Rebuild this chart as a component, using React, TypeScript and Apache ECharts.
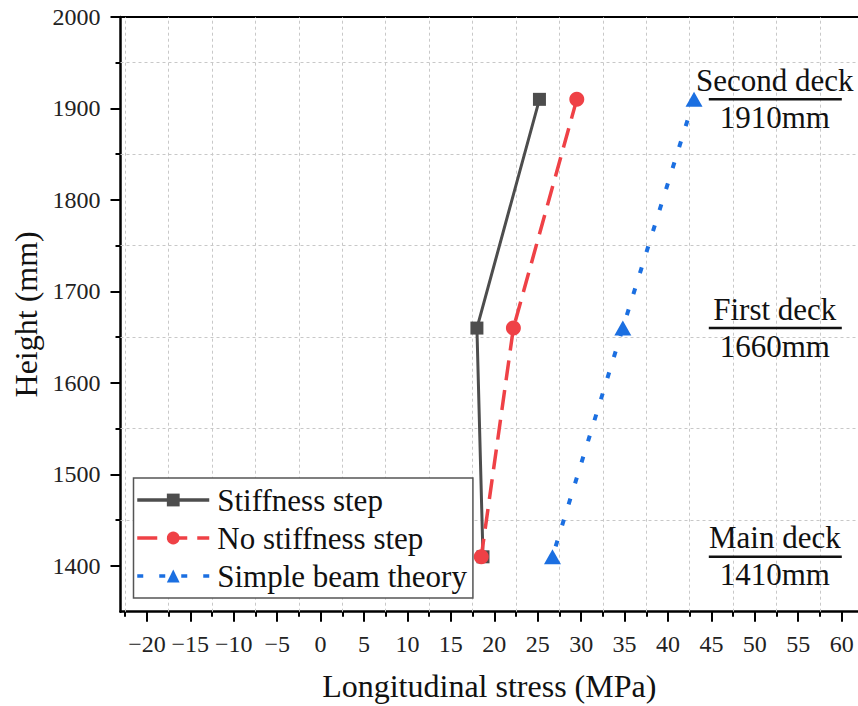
import React, { useEffect, useRef } from "react";
import * as echarts from "echarts";

const FONT = "'Liberation Serif', 'Times New Roman', serif";

// Data
const heights = [1910, 1660, 1410];
const stiffnessStep = [25.2, 18.0, 18.7];
const noStiffnessStep = [29.5, 22.2, 18.5];
const simpleBeam = [43.0, 34.8, 26.7];
const seriesNames = ["Stiffness step", "No stiffness step", "Simple beam theory"];

const xMajorTicks = [-20, -15, -10, -5, 0, 5, 10, 15, 20, 25, 30, 35, 40, 45, 50, 55, 60];
const xMinorTicks = [-22.5, -17.5, -12.5, -7.5, -2.5, 2.5, 7.5, 12.5, 17.5, 22.5, 27.5, 32.5, 37.5, 42.5, 47.5, 52.5, 57.5];
const yMajorTicks = [1400, 1500, 1600, 1700, 1800, 1900, 2000];
const yMinorTicks = [1450, 1550, 1650, 1750, 1850, 1950];

const deckNames = ["Second deck", "First deck", "Main deck"];
const deckHeights = [1910, 1660, 1410];
const deckLabels = ["1910mm", "1660mm", "1410mm"];
const deckLabelX = 52.3;

const X_MIN = -23.04;
const X_MAX = 61.88;
const Y_MIN = 1350;
const Y_MAX = 2000;

const GRID_LEFT = 120.5;
const GRID_TOP = 17;
const GRID_W = 858 - GRID_LEFT;
const GRID_H = 611.7 - GRID_TOP;

export default function App() {
  const ref = useRef<HTMLDivElement>(null);
  useEffect(() => {
    if (!ref.current) return;
    const chart = echarts.init(ref.current, undefined, { renderer: "svg" });
    const black = "#000";
    const gridStyle = { color: "#c8c8c8", width: 1, type: [3, 3] as any };
    const baseX = { type: "value", min: X_MIN, max: X_MAX, gridIndex: 0 };
    const baseY = { type: "value", min: Y_MIN, max: Y_MAX, gridIndex: 0 };
    const fmt = (v: number) => (v < 0 ? "\u2212" + Math.abs(v) : String(v));
    chart.setOption({
      animation: false,
      backgroundColor: "#fff",
      textStyle: { fontFamily: FONT },
      grid: {
        left: GRID_LEFT,
        top: GRID_TOP,
        width: GRID_W,
        height: GRID_H,
        containLabel: false,
        outerBoundsMode: "none",
      },
      xAxis: [
        {
          ...baseX,
          position: "bottom",
          name: "Longitudinal stress (MPa)",
          nameLocation: "middle",
          nameGap: 58,
          nameTextStyle: { fontFamily: FONT, fontSize: 32, color: "#111" },
          axisLine: { show: true, onZero: false, lineStyle: { color: black, width: 2.5 } },
          axisTick: { show: true, customValues: xMajorTicks, length: 10, lineStyle: { color: black, width: 2 } },
          axisLabel: {
            show: true,
            customValues: xMajorTicks,
            formatter: fmt,
            margin: 20,
            fontFamily: FONT,
            fontSize: 24,
            color: "#222",
          },
          splitLine: { show: false },
        },
        {
          ...baseX,
          position: "bottom",
          axisLine: { show: false, onZero: false },
          axisTick: { show: true, customValues: xMinorTicks, length: 5, lineStyle: { color: black, width: 2 } },
          axisLabel: { show: false },
          splitLine: { show: false },
        },
        {
          ...baseX,
          position: "bottom",
          axisLine: { show: false, onZero: false },
          axisTick: { show: true, inside: true, customValues: xMinorTicks, length: GRID_H, lineStyle: gridStyle },
          axisLabel: { show: false },
          splitLine: { show: false },
        },
        {
          ...baseX,
          position: "top",
          axisLine: { show: true, onZero: false, lineStyle: { color: black, width: 2 } },
          axisTick: { show: false },
          axisLabel: { show: false },
          splitLine: { show: false },
        },
      ],
      yAxis: [
        {
          ...baseY,
          position: "left",
          name: "Height (mm)",
          nameLocation: "middle",
          nameGap: 77,
          nameTextStyle: { fontFamily: FONT, fontSize: 32, color: "#111" },
          axisLine: { show: true, onZero: false, lineStyle: { color: black, width: 2.5 } },
          axisTick: { show: true, customValues: yMajorTicks, length: 10, lineStyle: { color: black, width: 2 } },
          axisLabel: {
            show: true,
            customValues: yMajorTicks,
            formatter: (v: number) => String(v),
            margin: 20,
            fontFamily: FONT,
            fontSize: 24,
            color: "#222",
          },
          splitLine: { show: false },
        },
        {
          ...baseY,
          position: "left",
          axisLine: { show: false, onZero: false },
          axisTick: { show: true, customValues: yMinorTicks, length: 5, lineStyle: { color: black, width: 2 } },
          axisLabel: { show: false },
          splitLine: { show: false },
        },
        {
          ...baseY,
          position: "left",
          axisLine: { show: false, onZero: false },
          axisTick: { show: true, inside: true, customValues: yMinorTicks, length: GRID_W, lineStyle: gridStyle },
          axisLabel: { show: false },
          splitLine: { show: false },
        },
      ],
      legend: {
        orient: "vertical",
        left: 133.5,
        top: 478,
        padding: [5, 6, 5, 2],
        itemGap: 4,
        itemWidth: 72,
        itemHeight: 16,
        backgroundColor: "#fff",
        borderColor: "#555",
        borderWidth: 1.5,
        borderRadius: 0,
        lineStyle: { width: 3.5 },
        textStyle: { fontFamily: FONT, fontSize: 31, color: "#111", lineHeight: 34, padding: [0, 0, 0, 3] },
        data: seriesNames,
      },
      series: [
        {
          name: seriesNames[0],
          type: "line",
          xAxisIndex: 0,
          yAxisIndex: 0,
          data: heights.map((h, i) => [stiffnessStep[i], h]),
          symbol: "rect",
          symbolSize: 13,
          color: "#4d4d4d",
          lineStyle: { color: "#4d4d4d", width: 3, type: "solid" },
          itemStyle: { color: "#4d4d4d" },
        },
        {
          name: seriesNames[1],
          type: "line",
          xAxisIndex: 0,
          yAxisIndex: 0,
          data: heights.map((h, i) => [noStiffnessStep[i], h]),
          symbol: "circle",
          symbolSize: 15,
          color: "#ef4146",
          lineStyle: { color: "#ef4146", width: 3.5, type: [20, 10] },
          itemStyle: { color: "#ef4146" },
        },
        {
          name: seriesNames[2],
          type: "line",
          xAxisIndex: 0,
          yAxisIndex: 0,
          data: heights.map((h, i) => [simpleBeam[i], h]),
          symbol: "triangle",
          symbolSize: [17, 15],
          color: "#1b6fe1",
          lineStyle: { color: "#1b6fe1", width: 4, type: [6, 16] },
          itemStyle: { color: "#1b6fe1" },
        },
      ],
    });

    const graphics: any[] = [];
    deckHeights.forEach((h, i) => {
      const p = chart.convertToPixel({ xAxisIndex: 0, yAxisIndex: 0 }, [deckLabelX, h]) as number[];
      if (!p) return;
      const [cx, cy] = p;
      graphics.push({
        type: "text",
        x: cx,
        y: cy - 19,
        style: { text: deckNames[i], fontFamily: FONT, fontSize: 31, fill: "#111", align: "center", verticalAlign: "middle" },
        z: 10,
      });
      graphics.push({
        type: "line",
        shape: { x1: cx - 66, y1: cy, x2: cx + 67, y2: cy },
        style: { stroke: "#111", lineWidth: 2.5 },
        z: 10,
      });
      graphics.push({
        type: "text",
        x: cx,
        y: cy + 18,
        style: { text: deckLabels[i], fontFamily: FONT, fontSize: 31, fill: "#111", align: "center", verticalAlign: "middle" },
        z: 10,
      });
    });
    chart.setOption({ graphic: graphics });

    return () => chart.dispose();
  }, []);
  return <div ref={ref} style={{ position: "fixed", left: 0, top: 0, width: 858, height: 706 }} />;
}
